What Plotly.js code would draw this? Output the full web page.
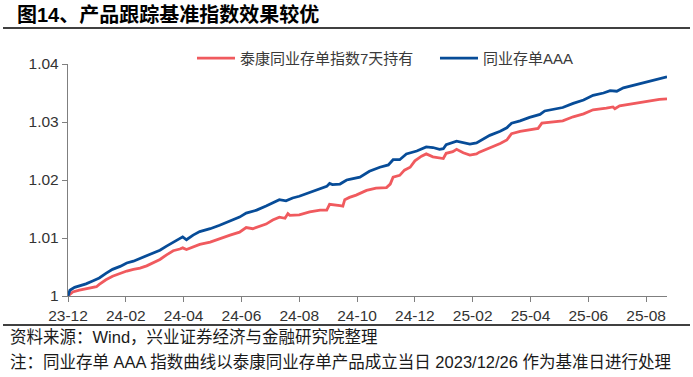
<!DOCTYPE html>
<html>
<head>
<meta charset="utf-8">
<script src="https://cdn.plot.ly/plotly-3.0.1.min.js"></script>
<style>
  html, body { margin: 0; padding: 0; background: #fff; }
  #chart { width: 693px; height: 377px; }
</style>
</head>
<body>
<div id="chart"></div>
<script>
// ---- data ----
const seriesNames = ['泰康同业存单指数7天持有', '同业存单AAA'];

const taikangDates = ['2023-12-26','2023-12-31','2024-01-07','2024-01-14','2024-01-21','2024-01-25','2024-01-28','2024-02-04','2024-02-11','2024-02-19','2024-02-26','2024-03-04','2024-03-11','2024-03-18','2024-03-25','2024-04-01','2024-04-08','2024-04-15','2024-04-22','2024-04-25','2024-04-29','2024-05-06','2024-05-13','2024-05-24','2024-06-03','2024-06-14','2024-06-24','2024-07-01','2024-07-08','2024-07-15','2024-07-22','2024-07-29','2024-08-05','2024-08-11','2024-08-14','2024-08-16','2024-08-26','2024-09-06','2024-09-17','2024-09-24','2024-09-27','2024-10-08','2024-10-11','2024-10-13','2024-10-18','2024-10-25','2024-11-05','2024-11-15','2024-11-26','2024-11-30','2024-12-03','2024-12-10','2024-12-15','2024-12-21','2024-12-26','2025-01-02','2025-01-07','2025-01-14','2025-01-21','2025-01-25','2025-01-28','2025-02-04','2025-02-08','2025-02-15','2025-02-22','2025-03-01','2025-03-04','2025-03-12','2025-03-15','2025-03-26','2025-04-02','2025-04-07','2025-04-16','2025-04-26','2025-05-05','2025-05-09','2025-05-21','2025-05-31','2025-06-11','2025-06-22','2025-07-02','2025-07-09','2025-07-16','2025-07-23','2025-07-25','2025-07-30','2025-08-10','2025-08-20','2025-08-31','2025-09-10','2025-09-18'];
const taikangValues = [1.0000,1.0007,1.0010,1.0012,1.0015,1.0016,1.0020,1.0028,1.0034,1.0039,1.0043,1.0046,1.0048,1.0052,1.0057,1.0063,1.0071,1.0078,1.0081,1.0083,1.0080,1.0085,1.0089,1.0093,1.0099,1.0105,1.0110,1.0118,1.0116,1.0120,1.0124,1.0131,1.0136,1.0134,1.0142,1.0139,1.0140,1.0145,1.0148,1.0148,1.0158,1.0156,1.0155,1.0166,1.0170,1.0174,1.0182,1.0186,1.0187,1.0193,1.0205,1.0208,1.0217,1.0222,1.0233,1.0241,1.0245,1.0240,1.0238,1.0237,1.0246,1.0249,1.0253,1.0247,1.0243,1.0245,1.0248,1.0253,1.0256,1.0263,1.0269,1.0280,1.0284,1.0286,1.0289,1.0298,1.0300,1.0302,1.0309,1.0314,1.0321,1.0322,1.0324,1.0326,1.0323,1.0328,1.0331,1.0333,1.0337,1.0339,1.0340];

const aaaDates = ['2023-12-26','2023-12-28','2024-01-02','2024-01-07','2024-01-14','2024-01-21','2024-01-28','2024-02-04','2024-02-11','2024-02-19','2024-02-26','2024-03-04','2024-03-11','2024-03-18','2024-03-25','2024-04-01','2024-04-08','2024-04-15','2024-04-22','2024-04-25','2024-04-29','2024-05-06','2024-05-13','2024-05-24','2024-06-03','2024-06-14','2024-06-24','2024-07-01','2024-07-12','2024-07-22','2024-07-29','2024-08-05','2024-08-12','2024-08-19','2024-08-26','2024-09-06','2024-09-17','2024-09-24','2024-09-27','2024-09-30','2024-10-08','2024-10-15','2024-10-18','2024-10-29','2024-11-08','2024-11-19','2024-11-28','2024-12-03','2024-12-10','2024-12-17','2024-12-28','2025-01-07','2025-01-14','2025-01-21','2025-01-25','2025-01-28','2025-02-08','2025-02-15','2025-02-22','2025-03-01','2025-03-08','2025-03-15','2025-03-26','2025-04-02','2025-04-07','2025-04-16','2025-04-26','2025-05-07','2025-05-12','2025-05-21','2025-05-31','2025-06-11','2025-06-22','2025-07-02','2025-07-13','2025-07-20','2025-07-27','2025-08-03','2025-08-13','2025-08-24','2025-09-03','2025-09-18'];
const aaaValues = [1.0000,1.0010,1.0015,1.0017,1.0021,1.0026,1.0031,1.0039,1.0046,1.0051,1.0057,1.0060,1.0065,1.0069,1.0074,1.0079,1.0086,1.0093,1.0100,1.0102,1.0097,1.0105,1.0111,1.0116,1.0122,1.0129,1.0136,1.0143,1.0148,1.0155,1.0161,1.0166,1.0164,1.0169,1.0172,1.0178,1.0185,1.0189,1.0194,1.0192,1.0193,1.0200,1.0201,1.0205,1.0215,1.0222,1.0226,1.0235,1.0235,1.0245,1.0250,1.0257,1.0256,1.0253,1.0254,1.0261,1.0267,1.0265,1.0262,1.0264,1.0270,1.0277,1.0284,1.0290,1.0298,1.0302,1.0308,1.0313,1.0319,1.0322,1.0325,1.0332,1.0338,1.0346,1.0350,1.0354,1.0353,1.0359,1.0363,1.0367,1.0371,1.0378];

const xTickDates = ['2023-12-26','2024-02-25','2024-04-26','2024-06-26','2024-08-26','2024-10-26','2024-12-26','2025-02-25','2025-04-27','2025-06-27','2025-08-27'];
const xTickLabels = ['23-12','24-02','24-04','24-06','24-08','24-10','24-12','25-02','25-04','25-06','25-08'];
const yTickValues = [1, 1.01, 1.02, 1.03, 1.04];
const yTickLabels = ['1', '1.01', '1.02', '1.03', '1.04'];

const titleText = '图14、产品跟踪基准指数效果较优';
const sourceText = '资料来源：Wind，兴业证券经济与金融研究院整理';
const noteText = '注：同业存单 AAA 指数曲线以泰康同业存单产品成立当日 2023/12/26 作为基准日进行处理';

// ---- chart ----
const FONT = 'Liberation Sans, Arial, Noto Sans CJK SC, sans-serif';
const RED = '#F05A5E';
const BLUE = '#074C98';

const traces = [
  { x: taikangDates, y: taikangValues, name: seriesNames[0], type: 'scatter', mode: 'lines',
    line: { color: RED, width: 2.8 } },
  { x: aaaDates, y: aaaValues, name: seriesNames[1], type: 'scatter', mode: 'lines',
    line: { color: BLUE, width: 2.8 } }
];

const layout = {
  width: 693, height: 377,
  margin: { l: 68, r: 26, t: 64, b: 81, pad: 0 },
  paper_bgcolor: '#ffffff', plot_bgcolor: '#ffffff',
  font: { family: FONT, size: 15, color: '#333333' },
  showlegend: true,
  legend: {
    orientation: 'h', x: 0.207, xanchor: 'left', y: 1.095, yanchor: 'top',
    font: { family: FONT, size: 15, color: '#3a3a3a' },
    itemwidth: 38, entrywidth: 190, entrywidthmode: 'pixels',
    bgcolor: 'rgba(0,0,0,0)', borderwidth: 0, traceorder: 'normal'
  },
  xaxis: {
    type: 'date',
    range: ['2023-12-26', '2025-09-18'],
    tickmode: 'array', tickvals: xTickDates, ticktext: xTickLabels,
    ticks: 'outside', ticklen: 5, tickwidth: 1, tickcolor: '#7f7f7f',
    showline: true, linecolor: '#7f7f7f', linewidth: 1.2,
    showgrid: false, zeroline: false,
    tickfont: { family: FONT, size: 15.5, color: '#333333' }
  },
  yaxis: {
    range: [1, 1.04],
    tickmode: 'array', tickvals: yTickValues, ticktext: yTickLabels,
    ticks: 'outside', ticklen: 5, tickwidth: 1, tickcolor: '#7f7f7f',
    showline: true, linecolor: '#7f7f7f', linewidth: 1.2,
    showgrid: false, zeroline: false,
    tickfont: { family: FONT, size: 15.5, color: '#333333' }
  },
  shapes: [
    { type: 'line', xref: 'paper', yref: 'paper', x0: -0.1085, x1: 1.0384, y0: 1.1552, y1: 1.1552,
      line: { color: '#000000', width: 1.5 } },
    { type: 'line', xref: 'paper', yref: 'paper', x0: -0.1085, x1: 1.0384, y0: -0.125, y1: -0.125,
      line: { color: '#000000', width: 1.5 } }
  ],
  annotations: [
    { text: '<b>' + titleText + '</b>', xref: 'paper', yref: 'paper', x: -0.0885, y: 1.2155,
      xanchor: 'left', yanchor: 'middle', showarrow: false,
      font: { family: FONT, size: 20, color: '#000000' } },
    { text: sourceText, xref: 'paper', yref: 'paper', x: -0.1002, y: -0.1767,
      xanchor: 'left', yanchor: 'middle', showarrow: false,
      font: { family: FONT, size: 16.5, color: '#1a1a1a' } },
    { text: noteText, xref: 'paper', yref: 'paper', x: -0.1002, y: -0.2845,
      xanchor: 'left', yanchor: 'middle', showarrow: false,
      font: { family: FONT, size: 16.5, color: '#1a1a1a' } }
  ]
};

Plotly.newPlot('chart', traces, layout, { displayModeBar: false, staticPlot: true });
</script>
</body>
</html>
